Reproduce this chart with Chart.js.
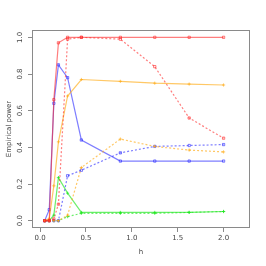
<!DOCTYPE html>
<html>
<head>
<meta charset="utf-8">
<script src="https://cdn.jsdelivr.net/npm/chart.js@4"></script>
<style>
  html, body { margin: 0; padding: 0; background: #fff; }
  #wrap { width: 266px; height: 266px; }
</style>
</head>
<body>
<div id="wrap"><canvas id="c" width="266" height="266"></canvas></div>
<script>
// valores de h (eje x)
const H = [0.05, 0.1, 0.15, 0.2, 0.3, 0.45, 0.875, 1.25, 1.625, 2.0];
const X_TICKS = [0, 0.5, 1, 1.5, 2];
const Y_TICKS = [0, 0.2, 0.4, 0.6, 0.8, 1.0];

// series (sólida / punteada)
const redSolid     = [0, 0, 0.66, 0.97, 1.0, 1.0, 1.0, 1.0, 1.0, 1.0];
const redDashed    = [0, 0, 0.01, 0.09, 0.99, 1.0, 0.99, 0.84, 0.56, 0.45];
const orangeSolid  = [0, 0.01, 0.19, 0.43, 0.68, 0.77, 0.76, 0.75, 0.745, 0.74];
const orangeDashed = [0, 0, 0, 0, 0.03, 0.29, 0.445, 0.405, 0.385, 0.375];
const blueSolid    = [0, 0.06, 0.64, 0.85, 0.78, 0.44, 0.325, 0.325, 0.325, 0.325];
const blueDashed   = [0, 0, 0, 0, 0.245, 0.275, 0.37, 0.405, 0.41, 0.415];
const greenSolid   = [0, 0, 0.03, 0.235, 0.15, 0.045, 0.045, 0.045, 0.045, 0.05];
const greenDashed  = [0, 0, 0, 0, 0.022, 0.04, 0.04, 0.04, 0.045, 0.05];

const RED = "rgba(255,40,40,0.6)";
const ORANGE = "rgba(255,170,20,0.65)";
const BLUE = "rgba(40,40,255,0.6)";
const GREEN = "rgba(30,230,30,0.65)";

function serie(vals, color, dashed, pstyle) {
  return {
    data: H.map((h, i) => ({ x: h, y: vals[i] })),
    borderColor: color,
    backgroundColor: "rgba(0,0,0,0)",
    borderWidth: 1.2,
    borderDash: dashed ? [2, 2] : [],
    pointStyle: pstyle,
    pointRadius: 1.6,
    pointBorderWidth: 1,
    pointBorderColor: color,
    pointBackgroundColor: "rgba(0,0,0,0)",
    tension: 0
  };
}

/* ------------------ marco y etiquetas rotadas del eje y ------------------ */
const rStyle = {
  id: "rStyle",
  afterDraw(chart) {
    const ctx = chart.ctx;
    const a = chart.chartArea;
    ctx.save();
    ctx.strokeStyle = "#8a8a8a";
    ctx.lineWidth = 1;
    ctx.strokeRect(a.left + 0.5, a.top + 0.5, a.right - a.left - 1, a.bottom - a.top - 1);
    const ys = chart.scales.y;
    ctx.fillStyle = "#444";
    ctx.font = "7px 'DejaVu Sans', sans-serif";
    ctx.textAlign = "center";
    ctx.textBaseline = "middle";
    Y_TICKS.forEach(v => {
      const py = ys.getPixelForValue(v);
      ctx.save();
      ctx.translate(a.left - 12, py);
      ctx.rotate(-Math.PI / 2);
      ctx.fillText(v.toFixed(1), 0, 0);
      ctx.restore();
    });
    ctx.restore();
  }
};

new Chart(document.getElementById("c"), {
  type: "line",
  data: {
    datasets: [
      serie(redSolid, RED, false, "rect"),
      serie(redDashed, RED, true, "rect"),
      serie(orangeSolid, ORANGE, false, "cross"),
      serie(orangeDashed, ORANGE, true, "cross"),
      serie(blueSolid, BLUE, false, "rect"),
      serie(blueDashed, BLUE, true, "rect"),
      serie(greenSolid, GREEN, false, "cross"),
      serie(greenDashed, GREEN, true, "cross")
    ]
  },
  options: {
    responsive: false,
    animation: false,
    layout: { padding: { top: 30, right: 16, left: 0, bottom: 0 } },
    plugins: { legend: { display: false }, tooltip: { enabled: false } },
    scales: {
      x: {
        type: "linear",
        min: -0.088,
        max: 2.288,
        afterBuildTicks: s => { s.ticks = X_TICKS.map(v => ({ value: v })); },
        afterFit: s => { s.height = 38; },
        grid: { drawOnChartArea: false, tickLength: 4, color: "#8a8a8a" },
        border: { display: false },
        ticks: {
          padding: 2,
          color: "#444",
          font: { size: 7, family: "'DejaVu Sans', sans-serif" },
          maxRotation: 0,
          callback: v => v.toFixed(1)
        },
        title: {
          display: true,
          text: "h",
          color: "#444",
          font: { size: 7, family: "'DejaVu Sans', sans-serif" },
          padding: { top: 0, bottom: 10 }
        }
      },
      y: {
        type: "linear",
        min: -0.04,
        max: 1.04,
        afterBuildTicks: s => { s.ticks = Y_TICKS.map(v => ({ value: v })); },
        afterFit: s => { s.width = 32; },
        grid: { drawOnChartArea: false, tickLength: 4, color: "#8a8a8a" },
        border: { display: false },
        ticks: { display: false },
        title: {
          display: true,
          text: "Empirical power",
          color: "#444",
          font: { size: 7, family: "'DejaVu Sans', sans-serif" },
          padding: { top: 5, bottom: 0 }
        }
      }
    }
  },
  plugins: [rStyle]
});
</script>
</body>
</html>
